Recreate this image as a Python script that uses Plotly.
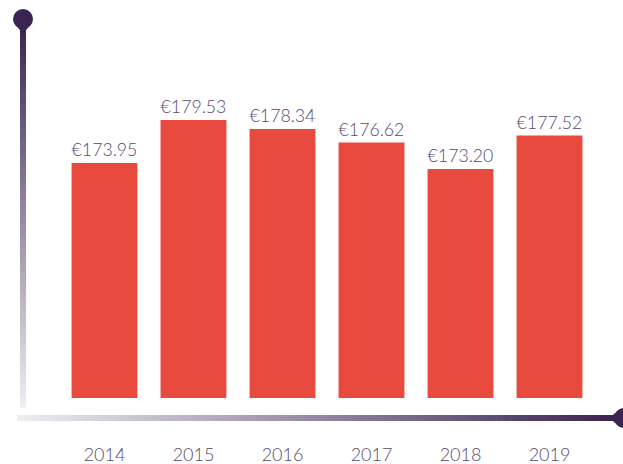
import plotly.graph_objects as go

years = ["2014", "2015", "2016", "2017", "2018", "2019"]
prices = [173.95, 179.53, 178.34, 176.62, 173.20, 177.52]
labels = ["€173.95", "€179.53", "€178.34", "€176.62", "€173.20", "€177.52"]

W, H = 623, 464
L, R, T, B = 60, 29, 20, 66
PW, PH = W - L - R, H - T - B
base = 143.6
ymax = base + PH / 7.74

def px(x):
    return (x - L) / PW

def py(y):
    return (H - B - y) / PH

def mix(c1, c2, t):
    return "rgb(%d,%d,%d)" % tuple(round(a + (b - a) * t) for a, b in zip(c1, c2))

dark = (58, 36, 82)
light = (238, 236, 241)

shapes = []
# vertical gradient axis line
n = 80
y0, y1 = 22, 407
for i in range(n):
    a = y0 + (y1 - y0) * i / n
    b = y0 + (y1 - y0) * (i + 1) / n + 0.6
    shapes.append(dict(type="rect", xref="paper", yref="paper", x0=px(20), x1=px(26),
                       y0=py(b), y1=py(a), line=dict(width=0),
                       fillcolor=mix(dark, light, i / (n - 1))))
# horizontal gradient axis line
x0, x1 = 17, 616
for i in range(n):
    a = x0 + (x1 - x0) * i / n
    b = x0 + (x1 - x0) * (i + 1) / n + 0.6
    shapes.append(dict(type="rect", xref="paper", yref="paper", x0=px(a), x1=px(b),
                       y0=py(421), y1=py(415), line=dict(width=0),
                       fillcolor=mix(light, dark, i / (n - 1))))
# top pin
r = 10
shapes.append(dict(type="circle", xref="paper", yref="paper",
                   x0=px(23 - r), x1=px(23 + r), y0=py(19 + r), y1=py(19 - r),
                   fillcolor="rgb(58,36,82)", line=dict(width=0)))
shapes.append(dict(type="path", xref="paper", yref="paper",
                   path="M %f %f L %f %f L %f %f Z" % (px(15), py(24), px(31), py(24), px(23), py(34)),
                   fillcolor="rgb(58,36,82)", line=dict(width=0)))
# right pin
shapes.append(dict(type="circle", xref="paper", yref="paper",
                   x0=px(624 - r), x1=px(624 + r), y0=py(418 + r), y1=py(418 - r),
                   fillcolor="rgb(58,36,82)", line=dict(width=0)))
shapes.append(dict(type="path", xref="paper", yref="paper",
                   path="M %f %f L %f %f L %f %f Z" % (px(619), py(410), px(619), py(426), px(609), py(418)),
                   fillcolor="rgb(58,36,82)", line=dict(width=0)))

fig = go.Figure(go.Bar(
    x=years, y=[p - base for p in prices], base=base,
    text=labels, textposition="outside", cliponaxis=False,
    textfont=dict(family="Lato", size=19, color="#584870", weight=300),
    marker=dict(color="#E84A3E", line=dict(width=0)),
))

fig.update_layout(
    width=W, height=H,
    margin=dict(l=L, r=R, t=T, b=B, pad=0, autoexpand=False),
    paper_bgcolor="white", plot_bgcolor="white",
    bargap=0.26, showlegend=False,
    shapes=shapes,
    font=dict(family="Lato"),
)
fig.update_xaxes(showline=False, showgrid=False, zeroline=False, ticks="", automargin=False,
                 tickfont=dict(family="Lato", size=18, color="#584870", weight=300),
                 ticklabelstandoff=44)
fig.update_yaxes(range=[base, ymax], showline=False, showgrid=False, zeroline=False,
                 showticklabels=False, ticks="", automargin=False)

fig.write_html("out.html", config={"displayModeBar": False},
               post_script="document.body.style.margin='0';document.body.style.overflow='hidden';")
